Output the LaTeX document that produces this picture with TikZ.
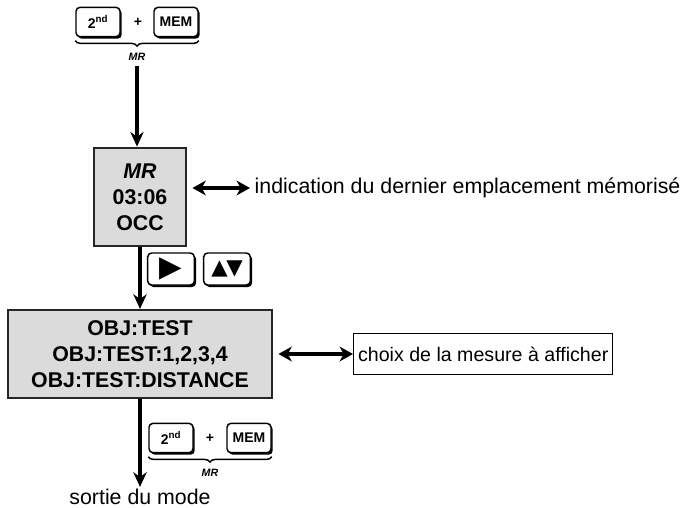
\documentclass[tikz,border=0pt]{standalone}
\usepackage{fontspec}
\setmainfont{Liberation Sans}
\newfontfamily\symfont{DejaVu Sans}
\usetikzlibrary{arrows.meta, positioning, shadows, decorations.pathreplacing}

\tikzset{
  keybox/.style={draw, line width=1.1pt, rounded corners=3pt, fill=white,
    minimum width=33pt, minimum height=22pt, inner sep=1pt,
    font=\fontsize{10.5}{11}\selectfont\bfseries,
    general shadow={shadow xshift=1.3pt, shadow yshift=-1.5pt, fill=black, rounded corners=3pt}},
  screen/.style={draw=black!85, line width=1.6pt, fill=black!14, align=center,
    font=\fontsize{16}{19.5}\selectfont\bfseries},
  flow/.style={line width=2.6pt, -{Stealth[length=11pt, width=10pt]}},
  both/.style={line width=2.4pt, {Stealth[length=10pt, width=11pt, inset=3pt]}-{Stealth[length=10pt, width=11pt, inset=3pt]}},
  keylabel/.style={font=\fontsize{8}{8}\selectfont\bfseries\itshape, inner sep=1pt},
  note/.style={font=\fontsize{16}{18}\selectfont},
  brace/.style={decorate, decoration={brace, mirror, amplitude=4pt}, line width=1.1pt}
}

\begin{document}
\begin{tikzpicture}[x=0.75pt, y=-0.75pt]
  \useasboundingbox (0,0) rectangle (685,507);

  % entree dans le mode
  \node[keybox] (keytwoa) at (98,22) {2\textsuperscript{nd}};
  \node[font=\bfseries\fontsize{10.5}{10}\selectfont] (plusa) at (138,22) {+};
  \node[keybox] (keymema) at (176,22) {MEM};
  \draw[brace] ([yshift=-2.5pt]keytwoa.south west) -- ([yshift=-2.5pt]keymema.south east)
    node[midway, below=8pt, keylabel] (mra) {MR};

  % ecran MR
  \node[screen, minimum width=69pt, minimum height=74pt] (mrbox) at (140,197)
    {\textit{MR}\\03:06\\OCC};
  \draw[flow] ([yshift=-2pt]mra.south) -- (mra.south |- mrbox.north);

  \node[note, anchor=west] (indic) at (250,188) {indication du dernier emplacement mémorisé};
  \draw[both] ([xshift=4pt]mrbox.east |- indic.west) -- (indic.west);

  % touches de defilement
  \node[keybox, minimum width=35pt, minimum height=24pt, inner sep=0pt,
    font=\symfont\fontsize{22}{22}\selectfont] (keyright) at (171,269) {▶};
  \node[keybox, minimum width=35pt, minimum height=24pt, inner sep=0pt,
    font=\symfont\fontsize{16}{16}\selectfont] (keyupdown) at (227,269) {▲\kern-1pt▼};

  % ecran OBJ
  \node[screen, minimum width=198pt, minimum height=66pt] (objbox) at (140,354)
    {OBJ:TEST\\OBJ:TEST:1,2,3,4\\OBJ:TEST:DISTANCE};
  \draw[flow] (mrbox.south) -- (objbox.north);

  \node[draw, line width=1pt, font=\fontsize{14.7}{17}\selectfont, minimum width=191pt,
    minimum height=31pt, anchor=west] (choix) at (353,354) {choix de la mesure à afficher};
  \draw[both] ([xshift=4pt]objbox.east) -- (choix.west);

  % sortie du mode
  \node[keybox] (keytwob) at (171,438) {2\textsuperscript{nd}};
  \node[font=\bfseries\fontsize{10.5}{10}\selectfont] (plusb) at (210,438) {+};
  \node[keybox] (keymemb) at (249,438) {MEM};
  \draw[brace] ([yshift=-2.5pt]keytwob.south west) -- ([yshift=-2.5pt]keymemb.south east)
    node[midway, below=8pt, keylabel] (mrb) {MR};

  \node[note, inner sep=1pt, anchor=base] (sortie) at (140,504) {sortie du mode};
  \draw[flow] (objbox.south) -- (sortie.north);
\end{tikzpicture}
\end{document}
